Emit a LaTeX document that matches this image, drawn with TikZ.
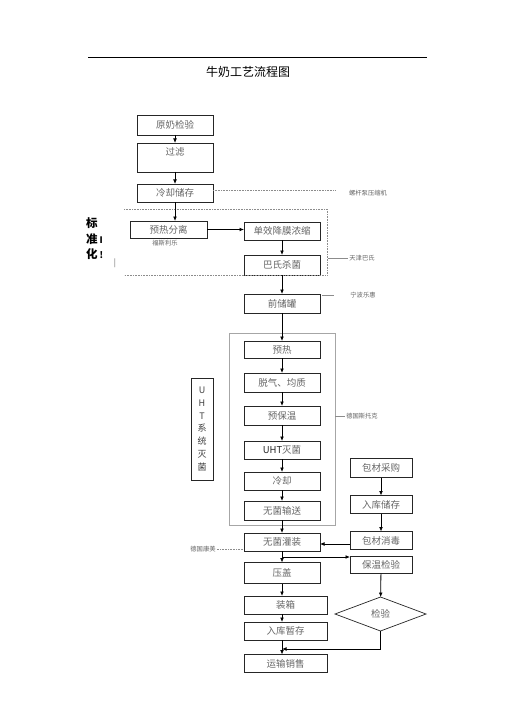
\documentclass[tikz,border=0pt]{standalone}
\usepackage{fontspec}
\setmainfont{Noto Sans CJK SC}
\usetikzlibrary{arrows.meta,shapes.geometric,calc}
\begin{document}
\begin{tikzpicture}[x=1pt,y=-1pt,
  box/.style={draw=black!85,line width=0.9pt,inner sep=0pt,outer sep=0pt,
    font=\fontsize{9.5}{10}\selectfont,text=black!60},
  arr/.style={line width=0.8pt,-{Latex[length=4.5pt,width=3.8pt]}},
  small/.style={font=\fontsize{6.3}{7}\selectfont,text=black!60,inner sep=1pt},
  guide/.style={black!45,line width=0.5pt},
  guidedot/.style={black!45,line width=0.6pt,densely dotted}]
\useasboundingbox (0,0) rectangle (505,714);
\fill[white] (0,0) rectangle (505,714);
% top rule and title
\coordinate (rl) at (88,58); \coordinate (rr) at (427,58);
\draw[line width=1pt] (rl) -- (rr);
\node[font=\fontsize{12}{13}\selectfont] (title) at (248,72) {牛奶工艺流程图};
% standardisation note
\node[font=\bfseries\fontsize{11.5}{12}\selectfont,inner sep=0pt,anchor=west] (biao) at (86,223) {标};
\node[font=\bfseries\fontsize{11.5}{12}\selectfont,inner sep=0pt,anchor=west] (zhun) at (86,239) {准\,\fontsize{9}{9}\selectfont I};
\node[font=\bfseries\fontsize{11.5}{12}\selectfont,inner sep=0pt,anchor=west] (hua) at (86,254) {化\,\fontsize{9}{9}\selectfont !};
\node[font=\fontsize{8}{8}\selectfont,text=black!60,inner sep=0pt] (bar) at (115,263) {|};
% column coordinate
\coordinate (colx) at (282,0);
% left column
\node[box,minimum width=76,minimum height=20] (yuannai) at (175,125) {原奶检验};
\node[box,minimum width=76,minimum height=29,text height=7pt,text depth=11pt] (guolv) at (175,157.5) {过滤};
\node[box,minimum width=76,minimum height=18] (lengque) at (175,193) {冷却储存};
\node[box,minimum width=77,minimum height=17] (yure1) at (168.5,229.5) {预热分离};
\node[box,minimum width=76,minimum height=18] (danxiao) at (282,231) {单效降膜浓缩};
\node[box,minimum width=76,minimum height=20] (bashi) at (282,265) {巴氏杀菌};
\node[box,minimum width=76,minimum height=19] (qianchu) at (282,303.5) {前储罐};
\node[box,minimum width=76,minimum height=17] (yure2) at (282,349.5) {预热};
\node[box,minimum width=76,minimum height=19] (tuoqi) at (282,382.5) {脱气、均质};
\node[box,minimum width=76,minimum height=19] (yubaowen) at (282,415.5) {预保温};
\node[box,minimum width=76,minimum height=18] (uht) at (282,450) {\textcolor{black!85}{UHT}灭菌};
\node[box,minimum width=76,minimum height=18] (lengque2) at (282,481) {冷却};
\node[box,minimum width=76,minimum height=19] (shusong) at (282,510.5) {无菌输送};
\node[box,minimum width=76,minimum height=18] (guanzhuang) at (282,542) {无菌灌装};
\node[box,minimum width=76,minimum height=21] (yagai) at (282,573) {压盖};
\node[box,minimum width=83,minimum height=18] (zhuangxiang) at (285.5,605) {装箱};
\node[box,minimum width=83,minimum height=18] (ruku) at (285.5,631) {入库暂存};
\node[box,minimum width=83,minimum height=18] (yunshu) at (285.5,663.5) {运输销售};
% right column
\node[box,minimum width=62,minimum height=19] (caigou) at (381,468) {包材采购};
\node[box,minimum width=62,minimum height=18] (chucun) at (381,504.5) {入库储存};
\node[box,minimum width=62,minimum height=18] (xiaodu) at (381,540.5) {包材消毒};
\node[box,minimum width=62,minimum height=17] (baowen) at (381,565) {保温检验};
\node[box,shape=diamond,minimum width=91,minimum height=34,line width=0.7pt] (jianyan) at (380.5,614) {检验};
% UHT side box
\node[draw=black!85,line width=0.8pt,minimum width=22,minimum height=102,inner sep=0pt,
  font=\fontsize{9}{12.8}\selectfont,align=center,text=black!75] (uhtside) at (202,429)
  {U\\H\\T\\系\\统\\灭\\菌};
% grey region boxes
\draw[guidedot] (124,209) -- (327,209) -- (327,275) -- (124,275);
\draw[black!35,line width=0.6pt] (229,333) rectangle (335,525);
% small labels and guides
\node[small] (luogan) at (368,193) {螺杆泵压缩机};
\coordinate (d1) at (336,190);
\draw[guidedot] (lengque.east |- d1) -- (d1);
\node[small] (fusi) at (165,243) {福斯利乐};
\node[small] (tianjin) at (362,258) {天津巴氏};
\coordinate (t1) at (328,258);
\draw[guide] (t1) -- (tianjin.west);
\node[small] (ningbo) at (363,295) {宁波乐惠};
\coordinate (n1) at (322,295); \coordinate (n2) at (334,295);
\draw[guide] (n1) -- (n2);
\node[small] (situoke) at (362,416) {德国斯托克};
\coordinate (s1) at (335,416);
\draw[guide] (s1) -- (situoke.west);
\node[small] (kangmei) at (203,549) {德国康美};
\coordinate (k1) at (243,549);
\draw[guidedot] (kangmei.east) -- (k1);
% arrows
\draw[arr] (yuannai) -- (guolv);
\draw[arr] (guolv) -- (lengque);
\draw[arr] (lengque.south) -- (lengque.south |- yure1.north);
\draw[arr] (yure1.east) -- (yure1.east -| danxiao.west);
\draw[arr] (danxiao) -- (bashi);
\draw[arr] (bashi) -- (qianchu);
\draw[arr] (qianchu) -- (yure2);
\draw[arr] (yure2) -- (tuoqi);
\draw[arr] (tuoqi) -- (yubaowen);
\draw[arr] (yubaowen) -- (uht);
\draw[arr] (uht) -- (lengque2);
\draw[arr] (lengque2) -- (shusong);
\draw[arr] (shusong) -- (guanzhuang);
\draw[arr] (guanzhuang) -- (yagai);
\draw[arr] (yagai.south) -- (yagai.south |- zhuangxiang.north);
\draw[arr] (zhuangxiang.south -| colx) -- (ruku.north -| colx);
\draw[arr] (ruku.south -| colx) -- (yunshu.north -| colx);
\draw[arr] (caigou) -- (chucun);
\draw[arr] (chucun) -- (xiaodu);
\coordinate (ya) at (0,544);
\draw[arr] (xiaodu.west |- ya) -- (guanzhuang.east |- ya);
\coordinate (br) at (282,557);
\draw[arr] (br) -- (br -| baowen.west);
\draw[arr] (baowen) -- (jianyan);
\coordinate (mg) at (282,649);
\draw[arr] (jianyan.south) |- (mg);
\end{tikzpicture}
\end{document}
